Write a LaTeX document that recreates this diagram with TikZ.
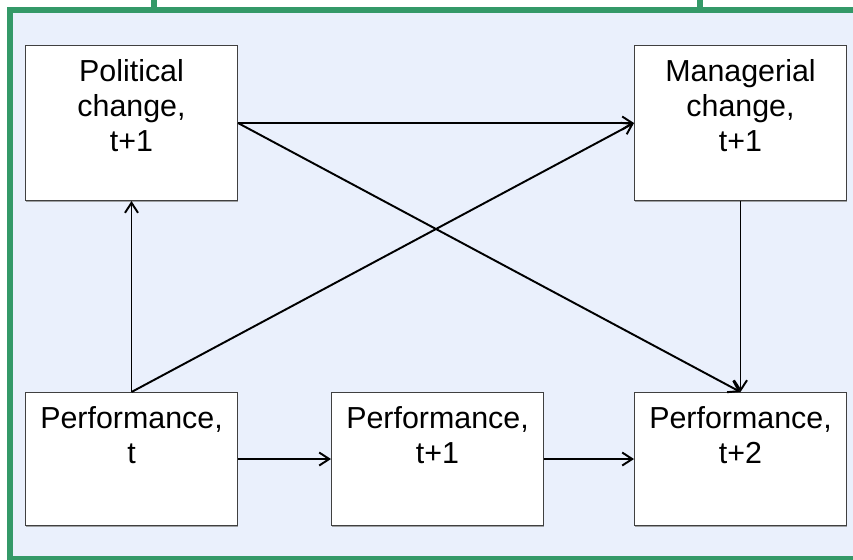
\documentclass[tikz,border=0pt]{standalone}
\usepackage{fontspec}
\setmainfont{Liberation Sans}
\usetikzlibrary{arrows.meta,shadows}

\definecolor{framegreen}{RGB}{52,153,104}
\definecolor{panelblue}{RGB}{234,240,252}

% 方框内文字: 高度, 行
\newcommand{\boxlines}[2]{\parbox[c][#1][t]{4.24cm}{\centering\fontsize{17.3pt}{19.9pt}\selectfont\rule{0pt}{0.72cm}#2}}

\tikzset{
  stage/.style={draw=black!75, line width=0.6pt, fill=white, inner sep=0pt, anchor=north west,
    drop shadow={shadow xshift=0.4pt, shadow yshift=-0.6pt, fill=black!45, opacity=0.8}},
  link/.style={line width=1.1pt, -{Straight Barb[length=2mm,width=2.6mm]}}
}

\begin{document}
\begin{tikzpicture}[x=0.02cm, y=-0.02cm]

    % 画布大小
    \useasboundingbox (0,0) rectangle (853,559);
    \clip (0,0) rectangle (853,559);

    % 绘制绿色外框和背景
    \draw[framegreen, line width=0.12cm] (154,0) -- (154,10); % 上方竖线
    \draw[framegreen, line width=0.12cm] (700,0) -- (700,10); % 上方竖线
    \filldraw[fill=panelblue, draw=framegreen, line width=0.12cm] (10,10) rectangle (900,559);

    % 绘制五个方框
    \node[stage] (pol) at (25,45) {\boxlines{3.1cm}{Political\\change,\\t+1}}; % 政治变动
    \node[stage] (mgr) at (634,45) {\boxlines{3.1cm}{Managerial\\change,\\t+1}}; % 管理变动
    \node[stage] (p0) at (25,392) {\boxlines{2.66cm}{Performance,\\t}}; % 绩效 t
    \node[stage] (p1) at (331,392) {\boxlines{2.66cm}{Performance,\\t+1}}; % 绩效 t+1
    \node[stage] (p2) at (634,392) {\boxlines{2.66cm}{Performance,\\t+2}}; % 绩效 t+2

    % 绘制箭头
    \draw[link] (p0.north) -- (pol.south);
    \draw[link] (p0.north) -- (mgr.west);
    \draw[link] (pol.east) -- (mgr.west);
    \draw[link] (pol.east) -- (p2.north);
    \draw[link] (mgr.south) -- (p2.north);
    \draw[link] (p0.east) -- (p1.west);
    \draw[link] (p1.east) -- (p2.west);

\end{tikzpicture}
\end{document}
